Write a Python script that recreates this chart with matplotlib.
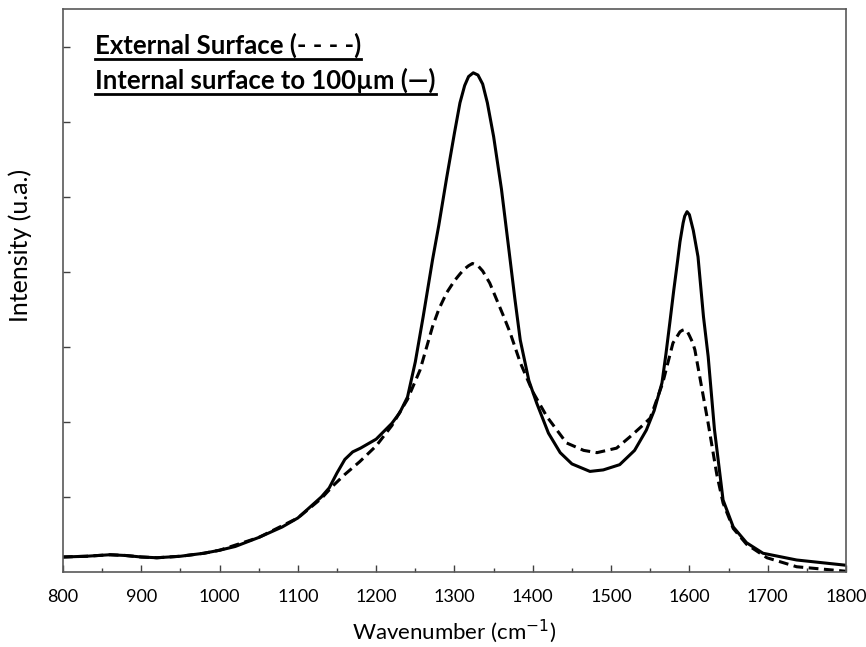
import matplotlib
matplotlib.use('Agg')
import matplotlib.pyplot as plt
from matplotlib.lines import Line2D

# internal surface (solid line)
wn_int = [800, 830, 860, 880, 900, 920, 950, 980, 1000, 1020, 1050, 1080, 1100,
          1115, 1130, 1140, 1150, 1160, 1170, 1180, 1200, 1220, 1230, 1240, 1250,
          1260, 1272, 1280, 1290, 1300, 1307, 1313, 1318, 1324, 1330, 1336, 1342,
          1350, 1360, 1370, 1377, 1384, 1395, 1405, 1420, 1435, 1450, 1473, 1490,
          1511, 1530, 1545, 1555, 1565, 1570, 1575, 1580, 1585, 1588, 1592, 1594,
          1597, 1600, 1605, 1611, 1618, 1624, 1632, 1643, 1656, 1673, 1694, 1737,
          1800]
int_vals = [0.20, 0.21, 0.23, 0.22, 0.20, 0.19, 0.21, 0.25, 0.29, 0.34, 0.46, 0.60, 0.72,
            0.86, 1.00, 1.12, 1.32, 1.50, 1.60, 1.65, 1.77, 1.98, 2.12, 2.33, 2.80,
            3.40, 4.16, 4.62, 5.25, 5.85, 6.25, 6.48, 6.60, 6.65, 6.62, 6.50, 6.25,
            5.80, 5.10, 4.25, 3.65, 3.09, 2.55, 2.25, 1.85, 1.59, 1.44, 1.34, 1.36,
            1.43, 1.62, 1.89, 2.15, 2.52, 2.90, 3.32, 3.75, 4.15, 4.40, 4.65, 4.74,
            4.80, 4.76, 4.55, 4.20, 3.40, 2.87, 1.90, 0.96, 0.60, 0.39, 0.25, 0.16,
            0.09]

# external surface (dashed line)
wn_ext = [800, 830, 860, 880, 900, 920, 950, 980, 1000, 1050, 1100, 1130, 1145,
          1160, 1179, 1200, 1220, 1240, 1256, 1272, 1280, 1290, 1300, 1307, 1312,
          1318, 1323, 1330, 1336, 1345, 1355, 1363, 1371, 1384, 1400, 1418, 1443,
          1465, 1482, 1507, 1524, 1540, 1550, 1566, 1579, 1585, 1588, 1591, 1594,
          1597, 1600, 1604, 1607, 1615, 1624, 1635, 1643, 1656, 1673, 1699, 1737,
          1800]
ext_vals = [0.20, 0.21, 0.23, 0.22, 0.20, 0.19, 0.21, 0.25, 0.29, 0.46, 0.72, 0.98, 1.15,
            1.30, 1.47, 1.68, 1.95, 2.30, 2.69, 3.27, 3.50, 3.72, 3.88, 3.97, 4.03,
            4.08, 4.11, 4.08, 4.01, 3.85, 3.60, 3.40, 3.19, 2.79, 2.40, 2.07, 1.72,
            1.62, 1.59, 1.65, 1.80, 1.95, 2.05, 2.52, 3.05, 3.15, 3.20, 3.22, 3.23,
            3.21, 3.15, 3.06, 2.96, 2.50, 1.98, 1.30, 0.92, 0.58, 0.37, 0.19, 0.07,
            0.01]

x_ticks = [800, 900, 1000, 1100, 1200, 1300, 1400, 1500, 1600, 1700, 1800]

plt.rcParams['font.family'] = ['Lato', 'DejaVu Sans']

fig = plt.figure(figsize=(8.66, 6.47), dpi=100)
ax = fig.add_axes([0.0727, 0.1159, 0.9042, 0.8702])

ax.plot(wn_ext, ext_vals, color='black', lw=2.2, ls=(0, (3.2, 1.8)))
ax.plot(wn_int, int_vals, color='black', lw=2.2)

ax.set_xlim(800, 1800)
ax.set_ylim(0, 7.5)
ax.set_xticks(x_ticks)
ax.set_xticks(range(850, 1800, 100), minor=True)
ax.set_yticks([1, 2, 3, 4, 5, 6, 7])
ax.set_yticklabels([])
ax.tick_params(direction='in', length=5, width=1, colors='#404040', labelsize=13,
               labelcolor='black', pad=12)
ax.tick_params(which='minor', direction='in', length=3, width=1, colors='#404040')
for s in ax.spines.values():
    s.set_color('#595959')
    s.set_linewidth(1.2)

ax.set_xlabel('Wavenumber (cm$^{-1}$)', fontsize=16, labelpad=9)
ax.set_ylabel('Intensity (u.a.)', fontsize=18)
ax.yaxis.set_label_coords(-0.040, 0.58)

# legend text, underlined
t1 = fig.text(95 / 866, 1 - 45 / 647, 'External Surface (- - - -)', fontsize=18.5,
              fontweight='bold', va='center', ha='left')
t2 = fig.text(95 / 866, 1 - 80 / 647, 'Internal surface to 100µm (—)', fontsize=18.5,
              fontweight='bold', va='center', ha='left')
fig.canvas.draw()
r = fig.canvas.get_renderer()
for t in (t1, t2):
    bb = t.get_window_extent(r).transformed(fig.transFigure.inverted())
    y = bb.y0 - 0.002
    fig.add_artist(Line2D([bb.x0, bb.x1], [y, y], transform=fig.transFigure,
                          color='black', lw=2))

fig.savefig('out.png', dpi=100)
